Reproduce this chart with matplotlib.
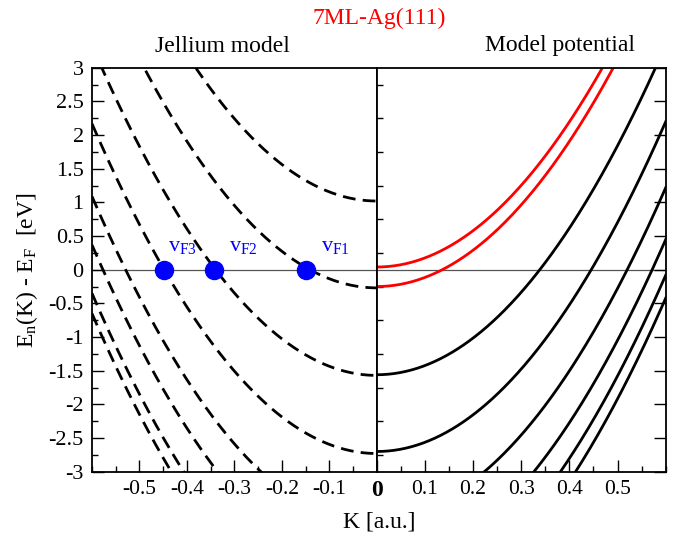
import numpy as np
import matplotlib
matplotlib.use("Agg")
import matplotlib.pyplot as plt
from matplotlib.ticker import MultipleLocator, FixedLocator, FuncFormatter

plt.rcParams['font.family'] = ['Liberation Serif', 'DejaVu Serif']
plt.rcParams['mathtext.fontset'] = 'custom'
plt.rcParams['mathtext.rm'] = 'Liberation Serif'
plt.rcParams['mathtext.it'] = 'Liberation Serif:italic'
plt.rcParams['axes.unicode_minus'] = False

# free-electron like subbands: E(K) = E0 + K^2 / (2 m*)  (Hartree -> eV)
HA_EV = 27.2114

# jellium model subbands (eV at K=0), effective mass 1
jellium_e0 = [1.02, -0.27, -1.57, -2.73, -3.81, -4.53, -5.25, -5.55]
jellium_mass = [1.0, 1.0, 1.0, 1.0, 1.0, 1.0, 1.0, 1.0]

# model potential subbands: two red (surface-like) + black
model_red_e0 = [0.04, -0.25]
model_red_mass = [1.01, 1.01]
model_black_e0 = [-1.56, -2.70, -3.68, -4.45, -4.98, -5.32]
model_black_mass = [1.0, 1.0, 1.0, 1.0, 1.0, 1.0]

# Fermi crossing points of the jellium bands
fermi_k = [-0.448, -0.342, -0.148]
fermi_labels = ['F3', 'F2', 'F1']
fermi_label_k = [-0.440, -0.311, -0.117]

k_left = np.linspace(-0.6, 0.0, 300)
k_right = np.linspace(0.0, 0.6, 300)


def band(k, e0, mass):
    return e0 + HA_EV / 2.0 * k ** 2 / mass


fig = plt.figure(figsize=(6.8, 5.37), dpi=100)
x0, x1, xm = 92 / 680, 665.7 / 680, 376.7 / 680
y0, y1 = 1 - 471.7 / 537, 1 - 67.7 / 537
axl = fig.add_axes([x0, y0, xm - x0, y1 - y0])
axr = fig.add_axes([xm, y0, x1 - xm, y1 - y0])

for e0, m in zip(jellium_e0, jellium_mass):
    axl.plot(k_left, band(k_left, e0, m), color='black', lw=2.0,
             dashes=(4.6, 2.6), solid_capstyle='butt', dash_capstyle='butt')

for e0, m in zip(model_red_e0, model_red_mass):
    axr.plot(k_right, band(k_right, e0, m), color='red', lw=2.0)
for e0, m in zip(model_black_e0, model_black_mass):
    axr.plot(k_right, band(k_right, e0, m), color='black', lw=2.0)

# Fermi level
for ax in (axl, axr):
    ax.axhline(0, color='#555555', lw=0.9, zorder=1)

axl.plot(fermi_k, [0] * len(fermi_k), 'o', color='blue', ms=13, zorder=5)
for kl, lab in zip(fermi_label_k, fermi_labels):
    axl.text(kl, 0.28, r'$\mathrm{v}_{\mathrm{%s}}$' % lab, color='blue',
             fontsize=16, ha='left', va='baseline')

fmt = FuncFormatter(lambda v, p: '%g' % round(v, 3))

axl.set_xlim(-0.6, 0.0)
axr.set_xlim(0.0, 0.6)
for ax in (axl, axr):
    ax.set_ylim(-3, 3)
    ax.yaxis.set_major_locator(MultipleLocator(0.5))
    ax.yaxis.set_minor_locator(MultipleLocator(0.25))
    ax.xaxis.set_minor_locator(MultipleLocator(0.05))
    for s in ax.spines.values():
        s.set_linewidth(1.3)
    ax.tick_params(which='both', direction='in', top=False, width=1.0,
                   labelsize=15.5, pad=6)
    ax.tick_params(which='major', length=8.5)
    ax.tick_params(which='minor', length=4.3)

axl.xaxis.set_major_locator(FixedLocator([-0.5, -0.4, -0.3, -0.2, -0.1]))
axl.xaxis.set_major_formatter(fmt)
axl.yaxis.set_major_formatter(fmt)
axl.tick_params(axis='y', right=False, labelsize=16)

axr.xaxis.set_major_locator(FixedLocator([0.0, 0.1, 0.2, 0.3, 0.4, 0.5]))
axr.xaxis.set_major_formatter(fmt)
axr.tick_params(axis='y', left=False, right=True, labelleft=False)
for t in axr.get_xticklabels():
    if t.get_text() == '0':
        t.set_fontweight('bold')
        t.set_fontsize(17)

axl.set_ylabel(r'$\mathrm{E_n(K)}$ - $\mathrm{E_F}$  [eV]', fontsize=17, labelpad=6)

fig.text(379 / 680, 1 - 522 / 537, 'K [a.u.]', fontsize=17, ha='center', va='center')
fig.text(379 / 680, 1 - 18 / 537, '7ML-Ag(111)', fontsize=17, color='red',
         ha='center', va='center')
fig.text(222 / 680, 1 - 47 / 537, 'Jellium model', fontsize=17, ha='center', va='center')
fig.text(560 / 680, 1 - 46 / 537, 'Model potential', fontsize=17, ha='center', va='center')

fig.savefig('out.png', dpi=100)
